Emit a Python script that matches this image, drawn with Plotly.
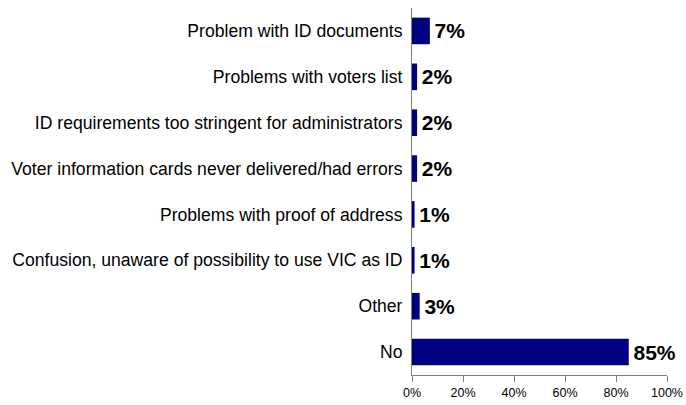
import plotly.graph_objects as go

# Reasons given, listed top to bottom
categories = [
    "Problem with ID documents",
    "Problems with voters list",
    "ID requirements too stringent for administrators",
    "Voter information cards never delivered/had errors",
    "Problems with proof of address",
    "Confusion, unaware of possibility to use VIC as ID",
    "Other",
    "No",
]
shares = [7, 2, 2, 2, 1, 1, 3, 85]
tick_values = [0, 20, 40, 60, 80, 100]
tick_labels = ["0%", "20%", "40%", "60%", "80%", "100%"]

fig = go.Figure(
    go.Bar(
        x=shares,
        y=categories,
        orientation="h",
        marker=dict(color="#000080", line=dict(width=0)),
        width=0.58,
        text=[f"{v}%" for v in shares],
        textposition="outside",
        outsidetextfont=dict(family="Liberation Sans, Arial, sans-serif", size=21, color="#000000"),
        texttemplate="<b>\u200a%{text}</b>",
        cliponaxis=False,
    )
)

fig.update_layout(
    width=686,
    height=405,
    margin=dict(l=412, r=19, t=8, b=30, autoexpand=False),
    paper_bgcolor="white",
    plot_bgcolor="white",
    showlegend=False,
    font=dict(family="Liberation Sans, Arial, sans-serif", color="#000000"),
)

fig.update_xaxes(
    range=[0, 100],
    tickvals=tick_values,
    ticktext=tick_labels,
    ticks="outside",
    ticklen=6,
    tickcolor="#808080",
    showline=True,
    linecolor="#808080",
    linewidth=1,
    showgrid=False,
    zeroline=False,
    tickfont=dict(size=12.5),
    fixedrange=True,
)

fig.update_yaxes(
    categoryorder="array",
    categoryarray=categories[::-1],
    showline=True,
    linecolor="#808080",
    linewidth=1,
    showgrid=False,
    ticks="",
    ticklabelstandoff=5,
    tickfont=dict(size=17.6),
    automargin=False,
)

fig.write_html("out.html")
